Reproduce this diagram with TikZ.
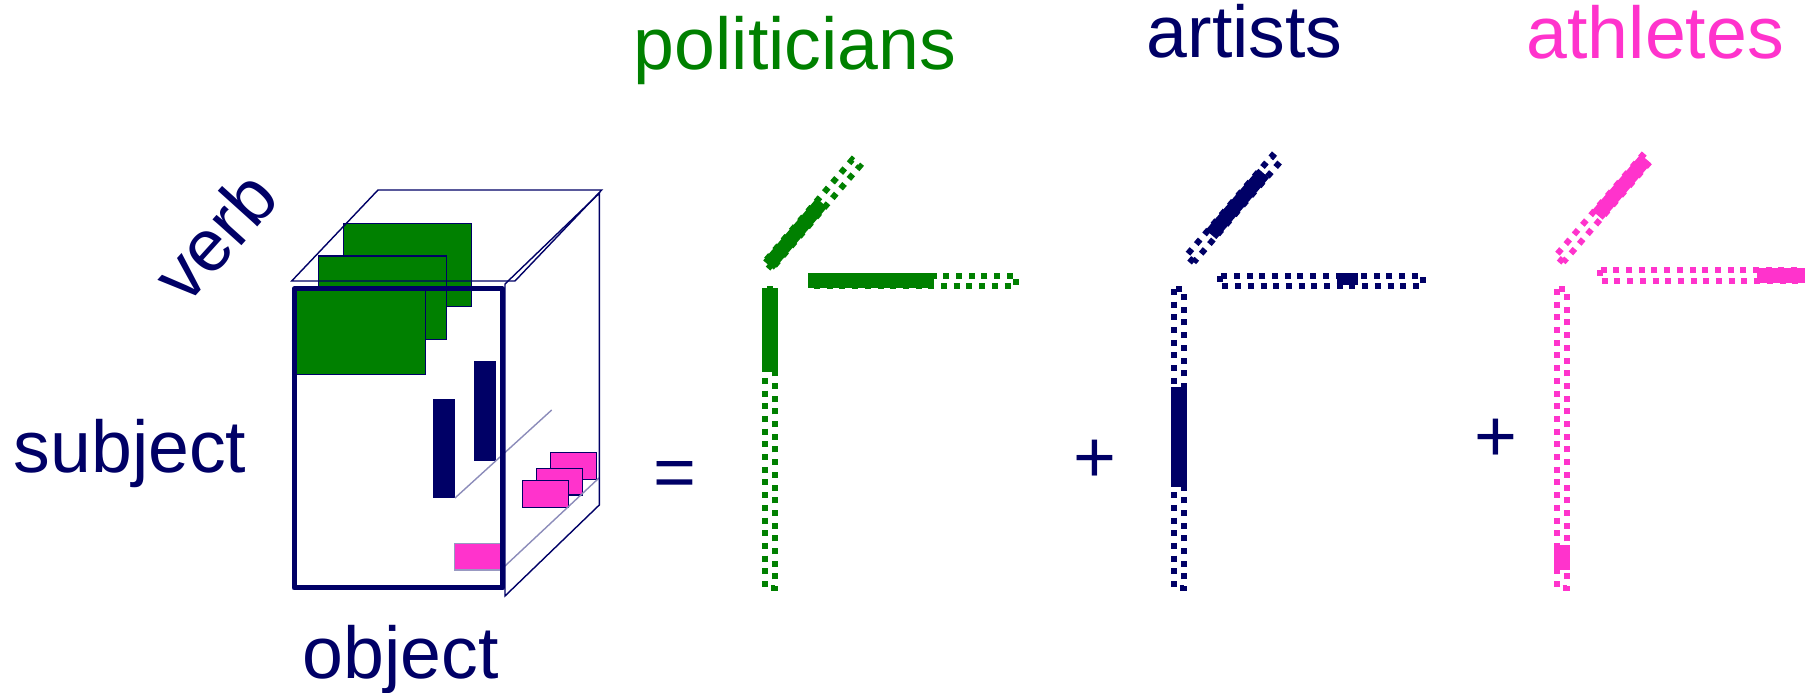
\documentclass[tikz,border=0pt]{standalone}
\usepackage{fontspec}
\setmainfont{Liberation Sans}
\definecolor{forest}{RGB}{0,128,0}
\definecolor{deepnavy}{RGB}{0,0,102}
\definecolor{rose}{RGB}{255,51,204}
\tikzset{
  word/.style={font=\fontsize{20.9}{24}\selectfont,text=#1,inner sep=0pt},
  word/.default=deepnavy,
  wire/.style={draw=deepnavy,line width=0.4pt},
  slabline/.style={draw=deepnavy!45,line width=0.4pt},
  slab/.style={fill=#1,draw=deepnavy,line width=0.4pt},
  slab/.default=forest,
  cubeframe/.style={draw=deepnavy,line width=0.5mm,line join=round},
  % factor vectors
  factor/.style={draw=#1,line width=0.6mm,dash pattern=on 0.6mm off 0.67mm},
  factor/.default=forest,
  load/.style={fill=#1},
  load/.default=forest,
}
\begin{document}
\begin{tikzpicture}
  \useasboundingbox (0,0) rectangle (18.18,6.93);
  \draw[slab] (3.433,4.697) rectangle (4.717,3.863);
  \draw[slab] (3.183,4.37) rectangle (4.467,3.537);
  \draw[slab] (2.94,4.04) rectangle (4.257,3.187);
  \fill[deepnavy] (4.327,2.943) rectangle (4.55,1.947);
  \fill[deepnavy] (4.74,3.32) rectangle (4.96,2.323);
  \draw[slab=rose,draw=deepnavy!40] (4.543,1.497) rectangle (5.007,1.23);
  \draw[slab=rose] (5.507,2.407) rectangle (5.967,2.137);
  \draw[slab=rose] (5.367,2.247) rectangle (5.823,1.98);
  \draw[slab=rose] (5.223,2.123) rectangle (5.683,1.853);
  \draw[slabline] (4.55,1.95) -- (5.517,2.83);
  \draw[slabline] (5.007,1.23) -- (5.99,2.15);
  \draw[wire] (2.917,4.12) -- (3.78,5.03) -- (6.017,5.03) -- (5.15,4.12) -- cycle;
  \draw[wire] (5.05,4.09) -- (5.993,4.997) -- (5.993,1.88) -- (5.05,0.97) -- cycle;
  \draw[cubeframe] (2.94,4.04) rectangle (5.025,1.05);

  \node[word,anchor=base west] (subject) at (0.13,2.2) {subject};
  \node[word,anchor=base west] (object) at (3.02,0.14) {object};
  \node[word,rotate=48] (verb) at (2.145,4.57) {verb};
  \node[word,anchor=base] (equals) at (6.745,1.95) {=};
  \node[word,anchor=base] (plusa) at (10.945,2.105) {+};
  \node[word,anchor=base] (plusb) at (14.958,2.315) {+};
  \node[word=forest,anchor=base west] (politicians) at (6.33,6.23) {politicians};
  \node[word,anchor=base west] (artists) at (11.46,6.35) {artists};
  \node[word=rose,anchor=base west] (athletes) at (15.26,6.34) {athletes};

  \fill[load] (7.62,4.05) rectangle (7.78,3.21);
  \draw[factor] (7.65,4.04) rectangle (7.75,1.05);
  \fill[load] (8.08,4.2) rectangle (9.343,4.047);
  \draw[factor] (8.113,4.173) rectangle (10.163,4.073);
  \begin{scope}[shift={(7.685,4.28)},rotate=49.4]
    \fill[load] (0,-0.07) rectangle (0.82,0.07);
    \draw[factor] (0,-0.05) rectangle (1.344,0.05);
  \end{scope}

  \fill[load=deepnavy] (11.71,3.057) rectangle (11.87,2.063);
  \draw[factor=deepnavy] (11.74,4.04) rectangle (11.84,1.05);
  \fill[load=deepnavy] (13.367,4.2) rectangle (13.583,4.08);
  \draw[factor=deepnavy] (12.197,4.173) rectangle (14.23,4.073);
  \begin{scope}[shift={(11.9,4.34)},rotate=49.3]
    \fill[load=deepnavy] (0.323,-0.07) rectangle (1.13,0.07);
    \draw[factor=deepnavy] (0,-0.05) rectangle (1.32,0.05);
  \end{scope}

  \fill[load=rose] (15.537,1.48) rectangle (15.697,1.23);
  \draw[factor=rose] (15.567,4.04) rectangle (15.667,1.05);
  \fill[load=rose] (17.567,4.25) rectangle (18.05,4.1);
  \draw[factor=rose] (15.997,4.23) rectangle (18.02,4.123);
  \begin{scope}[shift={(15.595,4.34)},rotate=49.2]
    \fill[load=rose] (0.58,-0.07) rectangle (1.322,0.07);
    \draw[factor=rose] (0,-0.05) rectangle (1.322,0.05);
  \end{scope}
\end{tikzpicture}
\end{document}
